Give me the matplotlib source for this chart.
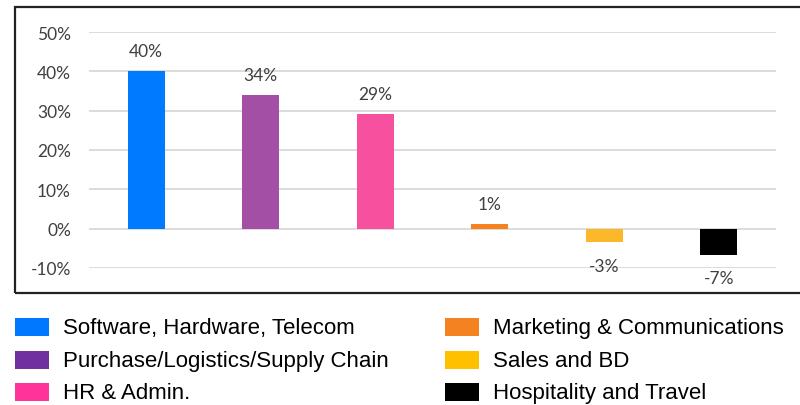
import matplotlib.pyplot as plt
from matplotlib.patches import Rectangle

# Data
categories = ['Software, Hardware, Telecom', 'Purchase/Logistics/Supply Chain', 'HR & Admin.',
              'Marketing & Communications', 'Sales and BD', 'Hospitality and Travel']
values = [40, 34, 29.2, 1.2, -3.5, -6.6]
value_labels = ['40%', '34%', '29%', '1%', '-3%', '-7%']
bar_colors = ['#007BFF', '#A34FA5', '#F7509F', '#F5821F', '#FBB829', '#000000']
legend_colors = ['#0078FF', '#7030A0', '#FF3399', '#F58220', '#FFC000', '#000000']
yticks = [-10, 0, 10, 20, 30, 40, 50]

W, H = 800, 406
fig = plt.figure(figsize=(8, 4.06), dpi=100)

# outer frame around the plot area
fig.patches.append(Rectangle((15 / W, 1 - 294 / H), 800 / W, (294 - 8) / H,
                             transform=fig.transFigure, fill=False,
                             edgecolor='#222222', linewidth=1.6))

ax = fig.add_axes([89 / W, 1 - 269 / H, (776 - 89) / W, (269 - 33) / H])
x = list(range(len(categories)))
ax.bar(x, values, width=0.32, color=bar_colors, zorder=3)
ax.set_xlim(-0.5, len(categories) - 0.5)
ax.set_ylim(-10, 50)
ax.set_yticks(yticks)
ax.set_yticklabels([f'{t}%' for t in yticks], family='Lato', fontsize=12.5, color='#404040')
ax.tick_params(axis='y', length=0, pad=13)
ax.set_xticks([])
ax.grid(axis='y', color='#D9D9D9', linewidth=1.3, zorder=0)
for s in ax.spines.values():
    s.set_visible(False)

for xi, v, lab in zip(x, values, value_labels):
    off = 14.5 if v >= 0 else -17
    ax.annotate(lab, (xi, v), xytext=(0, off), textcoords='offset points',
                ha='center', va='center', family='Lato', fontsize=12.5, color='#404040')

# legend drawn in two columns below the frame
rows_y = [328, 360.5, 393]
cols = [(15, 63), (445, 493)]
for i, (cat, col) in enumerate(zip(categories, legend_colors)):
    (px, tx) = cols[i // 3]
    y = rows_y[i % 3]
    fig.patches.append(Rectangle((px / W, 1 - (y + 9) / H), 34 / W, 18 / H,
                                 transform=fig.transFigure, facecolor=col, edgecolor='none'))
    fig.text(tx / W, 1 - (y + 1) / H, cat, family='Liberation Sans', fontsize=16,
             ha='left', va='center', color='black')

fig.savefig('out.png', dpi=100)
